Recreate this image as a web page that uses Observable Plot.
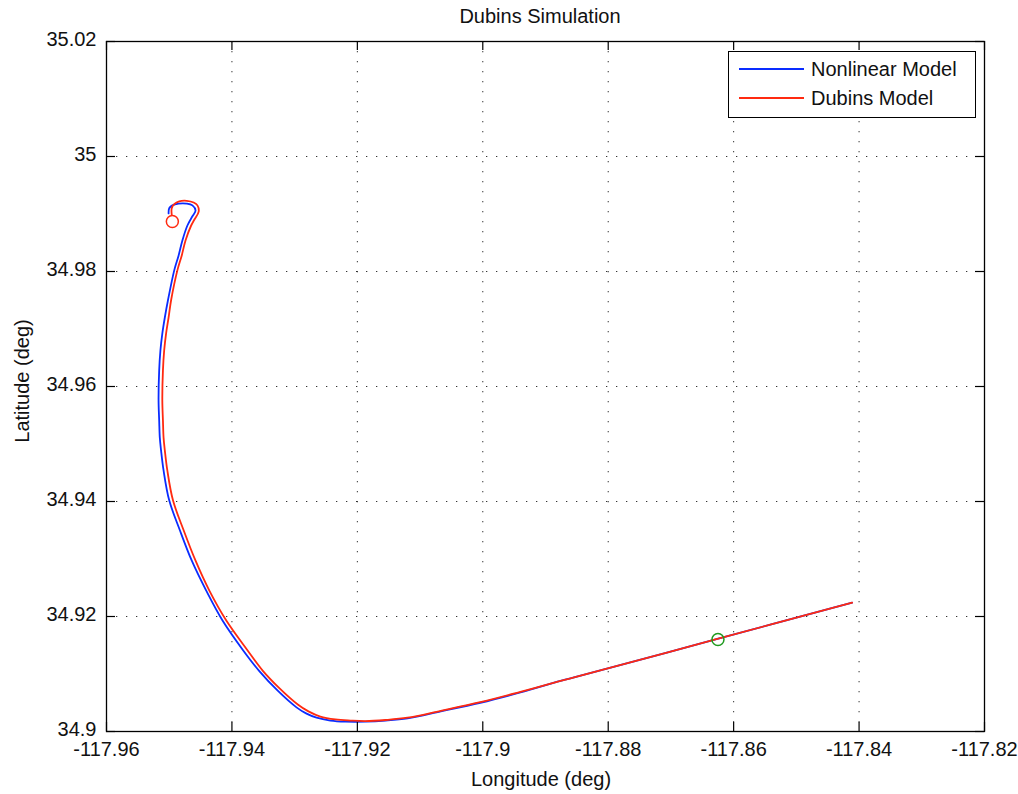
<!DOCTYPE html>
<html><head><meta charset="utf-8">
<script src="https://cdn.jsdelivr.net/npm/d3@7"></script>
<script src="https://cdn.jsdelivr.net/npm/@observablehq/plot@0.6"></script>
<style>
body{margin:0;background:#fff;font-family:"Liberation Sans",Arial,sans-serif;}
#wrap{position:relative;width:1018px;height:794px;}
.lbl{position:absolute;font-size:20px;color:#111;white-space:nowrap;transform:translate(-50%,-50%);}
#legend{position:absolute;left:728px;top:51px;width:246px;height:65px;border:1px solid #000;background:#fff;}
.lg{position:absolute;left:10px;width:65px;height:0;border-top:2px solid;}
.lt{position:absolute;left:82px;font-size:20px;color:#111;transform:translateY(-50%);white-space:nowrap;}
</style></head><body><div id="wrap"></div>
<script>
const chartTitle = "Dubins Simulation";
const xLabel = "Longitude (deg)";
const yLabel = "Latitude (deg)";
const seriesNames = ["Nonlinear Model", "Dubins Model"];

const xTicks = [-117.96, -117.94, -117.92, -117.9, -117.88, -117.86, -117.84, -117.82];
const xTickLabels = ["-117.96", "-117.94", "-117.92", "-117.9", "-117.88", "-117.86", "-117.84", "-117.82"];
const yTicks = [34.9, 34.92, 34.94, 34.96, 34.98, 35, 35.02];
const yTickLabels = ["34.9", "34.92", "34.94", "34.96", "34.98", "35", "35.02"];

// Nonlinear model trajectory
const nonlinearLon = [-117.8411, -117.8626, -117.8844, -117.8876, -117.8940, -117.9004, -117.9067, -117.9120, -117.9155, -117.9187, -117.9219, -117.9243, -117.9265, -117.9281, -117.9297, -117.9327, -117.9357, -117.9382, -117.9415, -117.9441, -117.9464, -117.9483, -117.9500, -117.9509, -117.9513, -117.9515, -117.9516, -117.9517, -117.9516, -117.9514, -117.9511, -117.9507, -117.9502, -117.9492, -117.9485, -117.9479, -117.9471, -117.9463, -117.9458, -117.9463, -117.9472, -117.9485, -117.9495, -117.9500, -117.9501];
const nonlinearLat = [34.9224, 34.9161, 34.9097, 34.9088, 34.9068, 34.9050, 34.9035, 34.9023, 34.9019, 34.9017, 34.9017, 34.9019, 34.9024, 34.9031, 34.9042, 34.9071, 34.9106, 34.9141, 34.9193, 34.9245, 34.9297, 34.9350, 34.9402, 34.9454, 34.9489, 34.9511, 34.9541, 34.9576, 34.9628, 34.9663, 34.9692, 34.9720, 34.9750, 34.9802, 34.9828, 34.9854, 34.9880, 34.9896, 34.9906, 34.9915, 34.9918, 34.9918, 34.9915, 34.9910, 34.9901];

// Dubins model trajectory
const dubinsLon = [-117.8411, -117.8626, -117.8844, -117.8876, -117.8940, -117.9004, -117.9067, -117.9120, -117.9155, -117.9187, -117.9211, -117.9235, -117.9259, -117.9278, -117.9295, -117.9324, -117.9351, -117.9375, -117.9409, -117.9436, -117.9458, -117.9477, -117.9494, -117.9503, -117.9507, -117.9509, -117.9510, -117.9511, -117.9510, -117.9508, -117.9505, -117.9501, -117.9497, -117.9487, -117.9480, -117.9474, -117.9465, -117.9460, -117.9453, -117.9455, -117.9461, -117.9472, -117.9484, -117.9492, -117.9496, -117.9496];
const dubinsLat = [34.9224, 34.9161, 34.9097, 34.9088, 34.9069, 34.9051, 34.9036, 34.9024, 34.9020, 34.9018, 34.9019, 34.9021, 34.9026, 34.9035, 34.9047, 34.9075, 34.9106, 34.9141, 34.9193, 34.9245, 34.9297, 34.9350, 34.9402, 34.9454, 34.9489, 34.9511, 34.9541, 34.9576, 34.9628, 34.9663, 34.9692, 34.9720, 34.9750, 34.9802, 34.9828, 34.9854, 34.9880, 34.9890, 34.9904, 34.9915, 34.9920, 34.9923, 34.9922, 34.9917, 34.9910, 34.9899];

const greenMarkerLon = [-117.8625];
const greenMarkerLat = [34.9160];
const redMarkerLon = [-117.9495];
const redMarkerLat = [34.9887];

const BLUE = "#0a2cff", RED = "#ff2a10", GREEN = "#1f9a1f";

const W = 1018, H = 794, mL = 106, mR = 34, mT = 41, mB = 63;
const fw = W - mL - mR, fh = H - mT - mB, tk = 9;

const nl = nonlinearLon.map((x, i) => ({x, y: nonlinearLat[i]}));
const db = dubinsLon.map((x, i) => ({x, y: dubinsLat[i]}));
const gm = greenMarkerLon.map((x, i) => ({x, y: greenMarkerLat[i]}));
const rm = redMarkerLon.map((x, i) => ({x, y: redMarkerLat[i]}));

const plot = Plot.plot({
  width: W, height: H,
  marginLeft: mL, marginRight: mR, marginTop: mT, marginBottom: mB,
  style: {fontFamily: "Liberation Sans, Arial, sans-serif", fontSize: "20px", background: "#fff"},
  x: {domain: [-117.96, -117.82], axis: null},
  y: {domain: [34.9, 35.02], axis: null},
  marks: [
    Plot.ruleX(xTicks.slice(1, -1), {stroke: "#000", strokeOpacity: 0.8, strokeDasharray: "1.3,8.7"}),
    Plot.ruleY(yTicks.slice(1, -1), {stroke: "#000", strokeOpacity: 0.8, strokeDasharray: "1.3,8.7"}),
    Plot.line(nl, {x: "x", y: "y", stroke: BLUE, strokeWidth: 1.8, curve: "catmull-rom"}),
    Plot.line(db, {x: "x", y: "y", stroke: RED, strokeWidth: 1.8, curve: "catmull-rom"}),
    Plot.dot(gm, {x: "x", y: "y", r: 6, stroke: GREEN, strokeWidth: 1.5, fill: "none"}),
    Plot.dot(rm, {x: "x", y: "y", r: 6, stroke: RED, strokeWidth: 1.5, fill: "none"}),
    Plot.ruleX(xTicks, {stroke: "#000", strokeWidth: 1.2, insetTop: fh - tk}),
    Plot.ruleX(xTicks, {stroke: "#000", strokeWidth: 1.2, insetBottom: fh - tk}),
    Plot.ruleY(yTicks, {stroke: "#000", strokeWidth: 1.2, insetRight: fw - tk}),
    Plot.ruleY(yTicks, {stroke: "#000", strokeWidth: 1.2, insetLeft: fw - tk}),
    Plot.frame({stroke: "#000", strokeWidth: 1.3}),
    Plot.axisX(xTicks, {anchor: "bottom", tickSize: 0, tickPadding: 10, fontSize: 20, fill: "#111",
      tickFormat: d => xTickLabels[xTicks.indexOf(d)], label: null}),
    Plot.axisY(yTicks, {anchor: "left", tickSize: 0, tickPadding: 10, fontSize: 20, fill: "#111", dy: -2,
      tickFormat: d => yTickLabels[yTicks.indexOf(d)], label: null})
  ]
});

const wrap = document.getElementById("wrap");
wrap.appendChild(plot);

function addLabel(text, x, y, rot) {
  const d = document.createElement("div");
  d.className = "lbl";
  d.textContent = text;
  d.style.left = x + "px";
  d.style.top = y + "px";
  if (rot) d.style.transform = "translate(-50%,-50%) rotate(-90deg)";
  wrap.appendChild(d);
}
addLabel(chartTitle, 540, 16);
addLabel(xLabel, 541, 779);
addLabel(yLabel, 22, 381, true);

const lg = document.createElement("div");
lg.id = "legend";
[[seriesNames[0], BLUE, 17], [seriesNames[1], RED, 46]].forEach(([name, col, y]) => {
  const l = document.createElement("div");
  l.className = "lg"; l.style.borderTopColor = col; l.style.top = (y - 1) + "px";
  const t = document.createElement("div");
  t.className = "lt"; t.textContent = name; t.style.top = y + "px";
  lg.appendChild(l); lg.appendChild(t);
});
wrap.appendChild(lg);
</script>
</body></html>
